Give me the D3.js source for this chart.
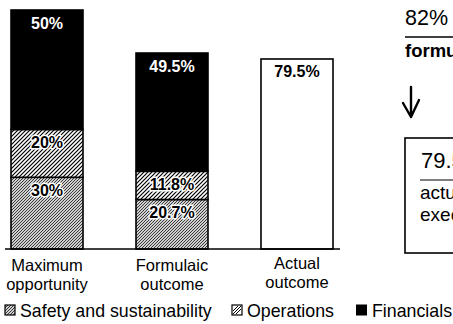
<!DOCTYPE html>
<html>
<head>
<meta charset="utf-8">
<script src="https://cdn.jsdelivr.net/npm/d3@7/dist/d3.min.js"></script>
<style>
  html, body { margin: 0; padding: 0; background: #fff; overflow: hidden; }
  svg { display: block; font-family: "Liberation Sans", Arial, sans-serif; }
</style>
</head>
<body>
<svg id="chart" width="453" height="324"></svg>
<script>
// Incentive outcome components, in percent of maximum
const categories = ["Maximum opportunity", "Formulaic outcome", "Actual outcome"];
const categoryLines = [["Maximum", "opportunity"], ["Formulaic", "outcome"], ["Actual", "outcome"]];
const safety     = [30, 20.7, null];
const operations = [20, 11.8, null];
const financials = [50, 49.5, null];
const actual     = [null, null, 79.5];
const seriesNames = ["Safety and sustainability", "Operations", "Financials"];
const formulaicTotal = "82%";
const actualTotal = "79.5%";

const svg = d3.select("#chart");

const x = d3.scaleBand()
  .domain(categories)
  .range([-14, 358])
  .paddingInner(0.424)
  .paddingOuter(0.2);

const y = d3.scaleLinear().domain([0, 100]).range([249, 10]);

// Fill patterns
const defs = svg.append("defs");
const hatch = defs.append("pattern")
  .attr("id", "ops").attr("patternUnits", "userSpaceOnUse")
  .attr("width", 4).attr("height", 4);
hatch.append("rect").attr("width", 4).attr("height", 4).attr("fill", "#fff");
hatch.append("path").attr("d", "M-1,1 l2,-2 M0,4 l4,-4 M3,5 l2,-2")
  .attr("stroke", "#000").attr("stroke-width", 1.2);

const stip = defs.append("pattern")
  .attr("id", "safety").attr("patternUnits", "userSpaceOnUse")
  .attr("width", 3).attr("height", 3);
stip.append("rect").attr("width", 3).attr("height", 3).attr("fill", "#cfcfcf");
stip.append("path").attr("d", "M-1,1 l2,-2 M0,3 l3,-3 M2,4 l2,-2")
  .attr("stroke", "#2a2a2a").attr("stroke-width", 0.9);

// Stack segments for each category
const segments = categories.flatMap((c, i) => {
  const segs = [];
  let base = 0;
  [[safety[i], "url(#safety)", "#000", true],
   [operations[i], "url(#ops)", "#000", true],
   [financials[i], "#000", "#fff", false],
   [actual[i], "#fff", "#000", false]].forEach(([v, fill, txt, halo]) => {
    if (v == null) return;
    segs.push({ cat: c, y0: base, y1: base + v, v, fill, txt, halo });
    base += v;
  });
  return segs;
});

const g = svg.append("g");
g.selectAll("rect.seg").data(segments).join("rect")
  .attr("class", "seg")
  .attr("x", d => x(d.cat))
  .attr("width", x.bandwidth())
  .attr("y", d => y(d.y1))
  .attr("height", d => y(d.y0) - y(d.y1))
  .attr("fill", d => d.fill)
  .attr("stroke", "#000")
  .attr("stroke-width", 1.6);

g.selectAll("text.val").data(segments).join("text")
  .attr("class", "val")
  .attr("x", d => x(d.cat) + x.bandwidth() / 2)
  .attr("y", d => y(d.y1) + 18.5)
  .attr("text-anchor", "middle")
  .attr("font-size", 16)
  .attr("font-weight", 700)
  .attr("fill", d => d.txt)
  .attr("stroke", d => d.halo ? "#fff" : "none")
  .attr("stroke-width", 3)
  .attr("stroke-linejoin", "round")
  .attr("paint-order", "stroke")
  .text(d => (d.v % 1 === 0 ? d.v : d.v.toFixed(1)) + "%");

// Baseline
svg.append("line")
  .attr("x1", 5).attr("x2", 340)
  .attr("y1", y(0)).attr("y2", y(0))
  .attr("stroke", "#000").attr("stroke-width", 1.6);

// Category labels, two lines each
const xAxis = svg.append("g").attr("fill", "#000");
categories.forEach((c, i) => {
  categoryLines[i].forEach((ln, j) => {
    xAxis.append("text")
      .attr("x", x(c) + x.bandwidth() / 2)
      .attr("y", (i === 2 ? 269 : 271) + j * 19)
      .attr("text-anchor", "middle")
      .attr("font-size", 16.5)
      .text(ln);
  });
});

// Legend
const legend = svg.append("g").attr("font-size", 17.8).attr("fill", "#000");
const legendX = [5, 232, 356];
seriesNames.forEach((name, i) => {
  const lg = legend.append("g").attr("transform", `translate(${legendX[i]},305)`);
  if (i === 0) {
    lg.append("rect").attr("width", 10).attr("height", 10)
      .attr("fill", "url(#safety)").attr("stroke", "#000").attr("stroke-width", 1.2);
  } else if (i === 1) {
    lg.append("rect").attr("width", 10).attr("height", 10)
      .attr("fill", "#fff").attr("stroke", "#000").attr("stroke-width", 1.2);
    lg.append("path").attr("d", "M1,9 L9,1 M1,6 L6,1 M4,9 L9,4")
      .attr("stroke", "#000").attr("stroke-width", 1);
  } else {
    lg.append("rect").attr("width", 11).attr("height", 11).attr("y", -0.5).attr("fill", "#000");
  }
  lg.append("text").attr("x", i === 2 ? 16 : 15).attr("y", 11.5).text(name);
});

// Side note: formulaic vs actual
const note = svg.append("g").attr("fill", "#000");
note.append("text").attr("x", 405).attr("y", 25)
  .attr("font-size", 21.5).text(formulaicTotal);
note.append("line").attr("x1", 405).attr("x2", 460).attr("y1", 37).attr("y2", 37)
  .attr("stroke", "#000").attr("stroke-width", 1.6);
note.append("text").attr("x", 405).attr("y", 57)
  .attr("font-size", 18.5).attr("font-weight", 700).text("formulaic outcome");
note.append("path")
  .attr("d", "M411,87 L411,117 M403,103 L411,117 L419,100")
  .attr("fill", "none").attr("stroke", "#000").attr("stroke-width", 2.4)
  .attr("stroke-linecap", "round").attr("stroke-linejoin", "round");
note.append("rect").attr("x", 405).attr("y", 138).attr("width", 80).attr("height", 115)
  .attr("fill", "none").attr("stroke", "#000").attr("stroke-width", 1.6);
note.append("text").attr("x", 421).attr("y", 168)
  .attr("font-size", 22).text(actualTotal);
note.append("line").attr("x1", 420).attr("x2", 470).attr("y1", 180).attr("y2", 180)
  .attr("stroke", "#000").attr("stroke-width", 1.2);
note.append("text").attr("x", 420).attr("y", 199)
  .attr("font-size", 19).text("actual outcome");
note.append("text").attr("x", 420).attr("y", 221)
  .attr("font-size", 19).text("executive");
</script>
</body>
</html>
